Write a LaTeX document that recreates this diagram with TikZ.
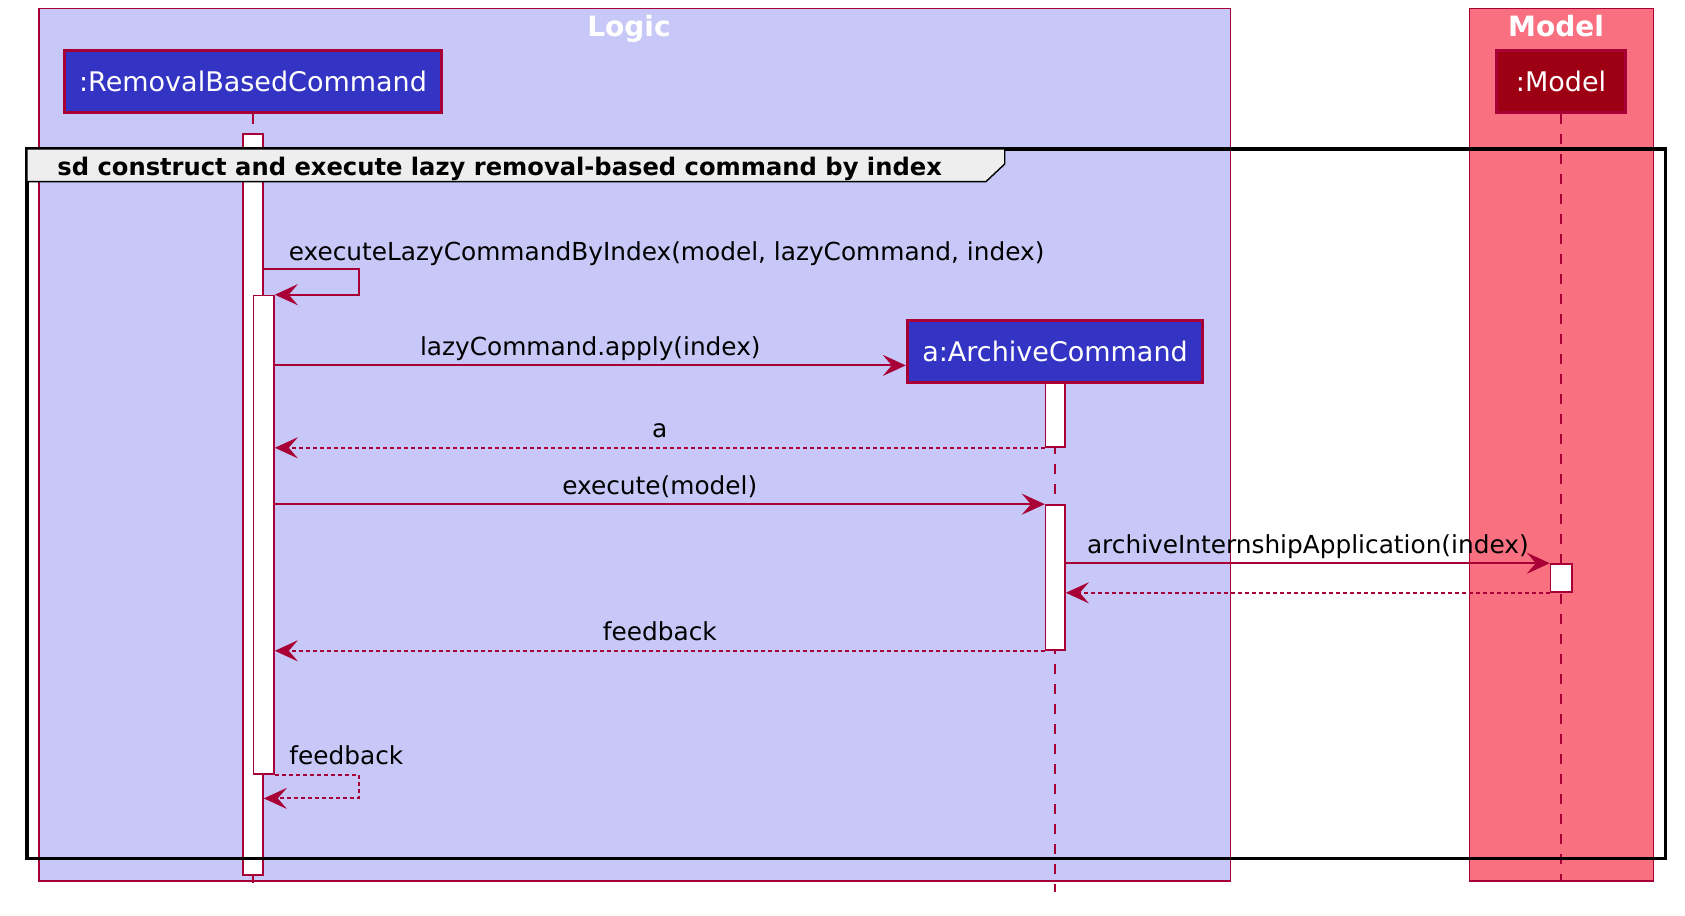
\documentclass[tikz,border=0pt]{standalone}
\usepackage{fontspec}
\setmainfont{DejaVu Sans}
\usepackage{xcolor}
\usepackage{tikz}
\usetikzlibrary{arrows.meta, positioning, fit, calc}

\definecolor{umlred}{HTML}{A80036}
\definecolor{logicbg}{HTML}{C8C8F8}
\definecolor{modelbg}{HTML}{F97181}
\definecolor{partblue}{HTML}{3333C4}
\definecolor{partred}{HTML}{9D0012}
\definecolor{tabgrey}{HTML}{EEEEEE}

\begin{document}
\begin{tikzpicture}[x=0.5pt, y=-0.5pt,
    grp/.style={draw=umlred, line width=0.7pt},
    grptitle/.style={text=white, anchor=base, font=\bfseries\fontsize{14}{16}\selectfont},
    part/.style={draw=umlred, line width=1.5pt, text=white, minimum height=31pt, inner xsep=7.5pt, font=\fontsize{13.5}{16}\selectfont},
    life/.style={draw=umlred, line width=0.8pt, dash pattern=on 5pt off 5pt},
    bar/.style={draw=umlred, fill=white, line width=0.8pt, inner sep=0pt},
    msg/.style={draw=umlred, line width=1pt, -{Stealth[length=11.5pt, width=10.5pt, inset=4.5pt]}},
    reply/.style={msg, dash pattern=on 2pt off 1.5pt},
    lbl/.style={text=black, inner sep=0pt, font=\fontsize{12.4}{15}\selectfont},
]

        \useasboundingbox (0,0) rectangle (1685,915);

        \draw[grp, fill=logicbg] (39,8.6) rectangle (1230.4,881);
        \draw[grp, fill=modelbg] (1469.5,8.6) rectangle (1653.5,881);
        \node[grptitle] (logicT) at (629,37) {Logic};
        \node[grptitle] (modelT) at (1556,37) {Model};

        \node[part, fill=partblue] (rbc) at (253,81.8) {:RemovalBasedCommand};
        \node[part, fill=partred, minimum width=64.5pt] (md) at (1561,81.8) {:Model};
        \node[part, fill=partblue] (ac) at (1055,351.5) {a:ArchiveCommand};

        \coordinate (rbcEnd) at (253,883);
        \coordinate (mdEnd) at (1561,881);
        \coordinate (acEnd) at (1055,892);
        \draw[life] (rbc.south) -- (rbcEnd);
        \draw[life] (md.south) -- (mdEnd);
        \draw[life] (ac.south) -- (acEnd);

        \node[bar, fit={(243,134) (263,875)}] (rbcA) {};
        \node[bar, fit={(253.6,295.5) (274,773.7)}] (rbcB) {};
        \node[bar, fit={(1045.6,383.6) (1065,447)}] (acA) {};
        \node[bar, fit={(1045.6,505) (1065,650)}] (acB) {};
        \node[bar, fit={(1550.6,564) (1572,592)}] (mdA) {};

        \draw[black, line width=1.6pt] (27,149) rectangle (1665.6,858.6);
        \draw[black, line width=0.7pt, fill=tabgrey] (27,149) -- (1004.7,149) -- (1004.7,164) -- (986,181.6) -- (27,181.6) -- cycle;
        \node[anchor=base west, inner sep=0pt, font=\bfseries\fontsize{12.1}{15}\selectfont] (sdT) at (57,175)
            {sd construct and execute lazy removal-based command by index};

        \coordinate (m1) at (0,268.7);
        \coordinate (m2) at (0,365.4);
        \coordinate (m8) at (0,798.4);

        \draw[msg] (rbcA.east |- m1) node[lbl, anchor=base west, xshift=12pt, yshift=4.3pt] {executeLazyCommandByIndex(model, lazyCommand, index)}
            -- ++(94.8,0) |- (rbcB.north east);
        \draw[msg] (rbcB.east |- m2) -- (ac.west |- m2) node[lbl, midway, anchor=base, yshift=5pt] {lazyCommand.apply(index)};
        \draw[reply] (acA.south west) -- (rbcB.east |- acA.south) node[lbl, midway, anchor=base, yshift=5pt] {a};
        \draw[msg] (rbcB.east |- acB.north) -- (acB.north west) node[lbl, midway, anchor=base, yshift=5pt] {execute(model)};
        \draw[msg] (acB.east |- mdA.north) -- (mdA.north west) node[lbl, midway, anchor=base, yshift=5pt] {archiveInternshipApplication(index)};
        \draw[reply] (mdA.south west) -- (acB.east |- mdA.south);
        \draw[reply] (acB.south west) -- (rbcB.east |- acB.south) node[lbl, midway, anchor=base, yshift=5pt] {feedback};
        \draw[reply] (rbcB.south east) node[lbl, anchor=base west, xshift=6.8pt, yshift=5pt] {feedback}
            -- ++(83.8,0) |- (rbcA.east |- m8);

    \end{tikzpicture}
\end{document}
